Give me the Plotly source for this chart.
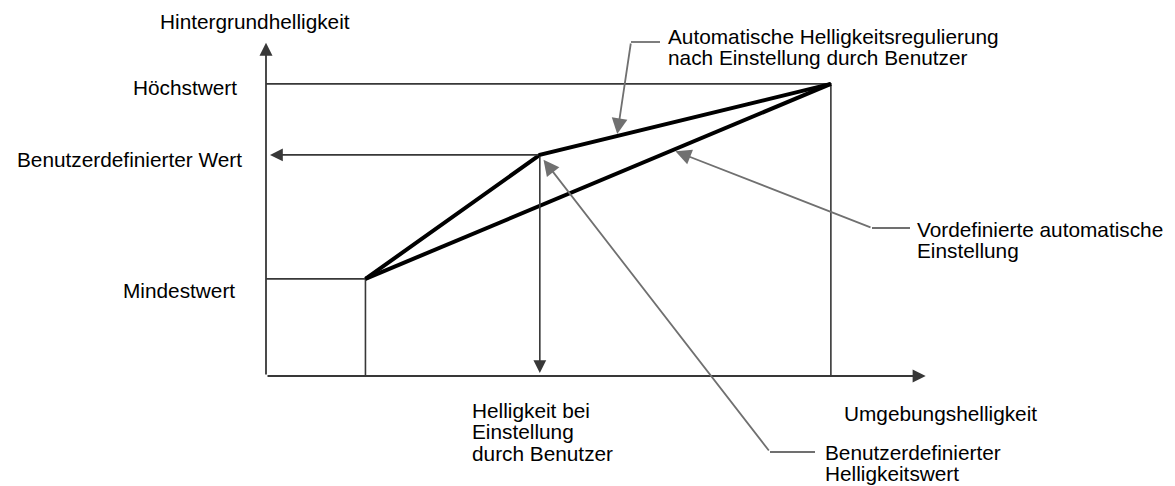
import plotly.graph_objects as go

# Kennlinienpunkte (relative Einheiten, Ursprung der Achsen = 0)
# Reihenfolge: Mindestwert, Benutzerpunkt, Höchstwert
umgebung = [1.5, 4.13, 8.52]       # Umgebungshelligkeit (x)
hintergrund = [2.9, 6.6, 8.72]     # Hintergrundhelligkeit (y)
achsen_ende = [9.95, 9.95]         # Länge der Achsenpfeile x / y

# Beschriftungen
titel_y = "Hintergrundhelligkeit"
titel_x = "Umgebungshelligkeit"
werte_labels = ["Mindestwert", "Benutzerdefinierter Wert", "Höchstwert"]
txt_auto = ["Automatische Helligkeitsregulierung", "nach Einstellung durch Benutzer"]
txt_vordef = ["Vordefinierte automatische", "Einstellung"]
txt_benutzerwert = ["Benutzerdefinierter", "Helligkeitswert"]
txt_einstellung = ["Helligkeit bei", "Einstellung", "durch Benutzer"]

WIN_W, WIN_H = 1175, 486
BODY = 8               # Standardrand des <body> der HTML-Seite
W, H = WIN_W - BODY, WIN_H - BODY
X0, Y0 = 266, 376      # Fensterposition des Ursprungs
SX, SY = 66.3, 33.5    # Pixel pro Einheit


def px(xp):
    return (xp - X0) / SX


def py(yp):
    return (Y0 - yp) / SY


FONT = dict(family="Liberation Sans, Arial, sans-serif", size=20.8, color="#000000")
GRAU = "#707070"
DUNKEL = "#383838"
LINE_GAP = 21.5

x_min, x_ben, x_max = umgebung
y_min, y_ben, y_max = hintergrund

fig = go.Figure()

# Hilfslinien
fig.add_trace(go.Scatter(
    x=[0, x_max, x_max, None, 0, x_min, x_min],
    y=[y_max, y_max, 0, None, y_min, y_min, 0],
    mode="lines", line=dict(color=DUNKEL, width=1.6),
    hoverinfo="skip", showlegend=False,
))

# Kennlinien
fig.add_trace(go.Scatter(
    x=umgebung, y=hintergrund, mode="lines",
    line=dict(color="black", width=4),
    hoverinfo="skip", showlegend=False,
))
fig.add_trace(go.Scatter(
    x=[x_min, x_max], y=[y_min, y_max], mode="lines",
    line=dict(color="black", width=4),
    hoverinfo="skip", showlegend=False,
))


def entlang(xa, ya, xb, yb, t):
    return xa + t * (xb - xa), ya + t * (yb - ya)


tip_auto = entlang(x_ben, y_ben, x_max, y_max, 0.265)
tip_vordef = entlang(x_min, y_min, x_max, y_max, 0.66)
tip_ben = (x_ben, y_ben)

# Führungslinien (waagerechter Teil)
knick_auto = (px(631), py(42))
knick_vordef = (px(872), py(228))
knick_ben = (px(770), py(452))
fig.add_trace(go.Scatter(
    x=[knick_auto[0], px(660), None, knick_vordef[0], px(910), None, knick_ben[0], px(815)],
    y=[knick_auto[1], knick_auto[1], None, knick_vordef[1], knick_vordef[1], None, knick_ben[1], knick_ben[1]],
    mode="lines", line=dict(color=GRAU, width=1.8),
    hoverinfo="skip", showlegend=False,
))

annotations = []


def pfeil(x0, y0, x1, y1, color, width, size, standoff=0):
    annotations.append(dict(
        x=x1, y=y1, ax=x0, ay=y0, xref="x", yref="y", axref="x", ayref="y",
        text="", showarrow=True, arrowhead=2, arrowsize=size, arrowwidth=width,
        arrowcolor=color, standoff=standoff,
    ))


# Achsen
pfeil(0, 0, achsen_ende[0], 0, DUNKEL, 1.8, 1.45)
pfeil(0, 0, 0, achsen_ende[1], DUNKEL, 1.8, 1.45)
# Benutzerpunkt -> Achsen
pfeil(x_ben, y_ben, px(270), y_ben, DUNKEL, 1.6, 1.6)
pfeil(x_ben, y_ben, x_ben, py(373), DUNKEL, 1.6, 1.6)
# graue Hinweispfeile
pfeil(*knick_auto, *tip_auto, GRAU, 1.8, 1.75, 2)
pfeil(*knick_vordef, *tip_vordef, GRAU, 1.8, 1.75, 3)
pfeil(*knick_ben, *tip_ben, GRAU, 1.8, 1.75, 6)


def text(s, xp, yp, anchor="left"):
    annotations.append(dict(
        x=px(xp), y=py(yp), xref="x", yref="y", text=s, showarrow=False,
        xanchor=anchor, yanchor="middle", font=FONT,
    ))


def block(lines, xp, yp, gap=LINE_GAP):
    for i, s in enumerate(lines):
        text(s, xp, yp + i * gap)


text(titel_y, 254.5, 21, "center")
text(werte_labels[2], 239, 87, "right")
text(werte_labels[1], 244, 159, "right")
text(werte_labels[0], 237, 290, "right")
text(titel_x, 842, 413)
block(txt_auto, 666, 36)
block(txt_vordef, 915, 229)
block(txt_benutzerwert, 823, 452)
block(txt_einstellung, 470, 410)

fig.update_layout(
    width=W, height=H,
    margin=dict(l=0, r=0, t=0, b=0),
    paper_bgcolor="white", plot_bgcolor="white",
    xaxis=dict(range=[px(BODY), px(WIN_W)], visible=False, fixedrange=True),
    yaxis=dict(range=[py(WIN_H), py(BODY)], visible=False, fixedrange=True),
    annotations=annotations,
    showlegend=False,
)

fig.write_html("out.html")
